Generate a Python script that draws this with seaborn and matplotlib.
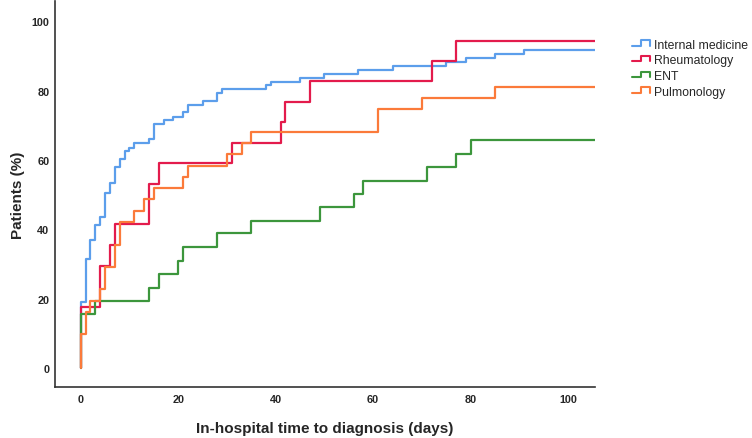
import pandas as pd
import seaborn as sns
import matplotlib.pyplot as plt
from matplotlib.lines import Line2D
from matplotlib.legend_handler import HandlerBase

# step times (days) and cumulative % of patients diagnosed
im_days = [0, 0, 1, 2, 3, 4, 5, 6, 7, 8, 9, 10, 11, 14, 15, 17, 19, 21, 22, 25, 28, 29,
           38, 39, 45, 50, 57, 64, 75, 79, 85, 91, 105.5]
im_pct = [0, 18.9, 31.4, 37.0, 41.3, 43.6, 50.4, 53.3, 58.1, 60.3, 62.6, 63.6, 64.8, 66.0,
          70.3, 71.5, 72.5, 73.7, 76.0, 77.0, 79.3, 80.4, 81.6, 82.6, 83.7, 84.8, 86.0,
          87.1, 88.3, 89.3, 90.5, 91.6, 91.6]

rh_days = [0, 0, 4, 6, 7, 14, 16, 31, 41, 42, 47, 72, 77, 105.5]
rh_pct = [0, 17.6, 29.5, 35.4, 41.5, 53.2, 59.1, 64.9, 71.0, 76.8, 82.8, 88.6, 94.4, 94.4]

ent_days = [0, 0, 3, 14, 16, 20, 21, 28, 35, 49, 56, 58, 71, 77, 80, 105.5]
ent_pct = [0, 15.6, 19.4, 23.2, 27.1, 30.9, 34.8, 38.8, 42.5, 46.3, 50.2, 54.0, 58.0,
           61.8, 65.7, 65.7]

pu_days = [0, 0, 1, 2, 4, 5, 7, 8, 11, 13, 15, 21, 22, 30, 33, 35, 61, 70, 85, 105.5]
pu_pct = [0, 9.8, 16.2, 19.4, 22.8, 29.2, 35.4, 42.2, 45.3, 48.7, 51.8, 55.1, 58.3, 61.7,
          65.0, 68.1, 74.6, 77.8, 81.1, 81.1]

groups = ['Internal medicine', 'Rheumatology', 'ENT', 'Pulmonology']
colors = ['#5C9EEB', '#E31B4C', '#3C963C', '#FB7A3A']

df = pd.concat([
    pd.DataFrame({'days': d, 'pct': p, 'group': g})
    for d, p, g in [(im_days, im_pct, groups[0]), (rh_days, rh_pct, groups[1]),
                    (ent_days, ent_pct, groups[2]), (pu_days, pu_pct, groups[3])]
], ignore_index=True)


class StepHandler(HandlerBase):
    # legend handle drawn as a little step, like the SPSS output
    def create_artists(self, legend, orig_handle, xdescent, ydescent, width, height, fontsize, trans):
        y0 = height * 0.2 - ydescent
        y1 = height * 0.85 - ydescent
        xs = [-xdescent, -xdescent + width * 0.5, -xdescent + width * 0.5, -xdescent + width, -xdescent + width]
        ys = [y0, y0, y1, y1, y0]
        line = Line2D(xs, ys, color=orig_handle.get_color(), lw=1.5)
        line.set_transform(trans)
        return [line]


sns.set_style('white')
plt.rcParams['font.family'] = ['Liberation Sans', 'DejaVu Sans']

fig = plt.figure(figsize=(7.52, 4.39), dpi=100)
ax = fig.add_axes([0.073, 0.116, 0.718, 0.879])

sns.lineplot(data=df, x='days', y='pct', hue='group', hue_order=groups, palette=colors,
             estimator=None, drawstyle='steps-post', linewidth=1.6, legend=False, ax=ax)

ax.set_xlim(-5.3, 105.5)
ax.set_ylim(-5.5, 105.8)
ax.set_xticks([0, 20, 40, 60, 80, 100])
ax.set_yticks([0, 20, 40, 60, 80, 100])
ax.tick_params(length=0, labelsize=7.8)
ax.tick_params(axis='x', pad=5)
ax.tick_params(axis='y', pad=4)
for lab in ax.get_xticklabels() + ax.get_yticklabels():
    lab.set_fontweight('bold')

ax.set_xlabel('In-hospital time to diagnosis (days)', fontsize=11, fontweight='bold', labelpad=12.5)
ax.set_ylabel('Patients (%)', fontsize=11, fontweight='bold', labelpad=5)

sns.despine(ax=ax)
for s in ['left', 'bottom']:
    ax.spines[s].set_color('#333333')
    ax.spines[s].set_linewidth(1.2)

handles = [Line2D([], [], color=c) for c in colors]
fig.legend(handles, groups, loc='upper left', bbox_to_anchor=(0.826, 0.935), frameon=False,
           fontsize=8.8, handlelength=1.5, handletextpad=0.3, labelspacing=0.3,
           handler_map={Line2D: StepHandler()})

fig.savefig('out.png', dpi=100)
